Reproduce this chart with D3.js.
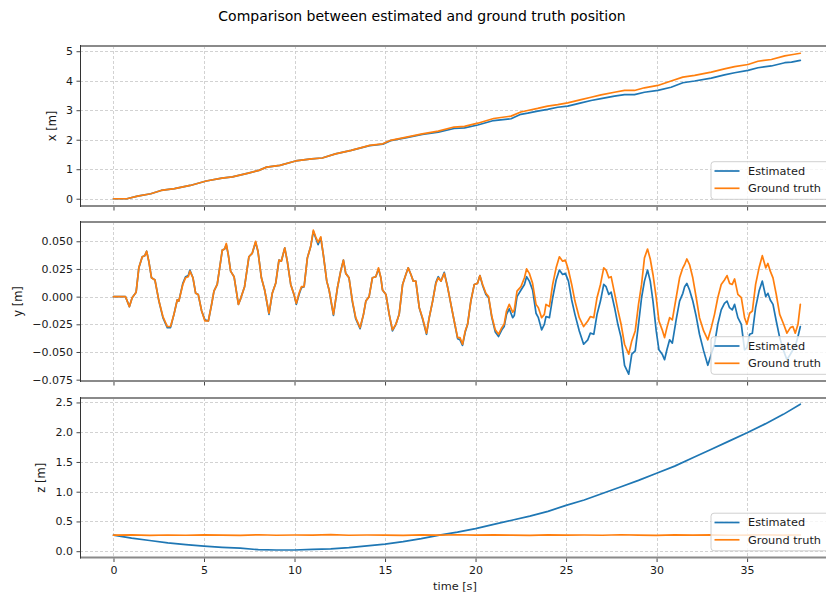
<!DOCTYPE html>
<html>
<head>
<meta charset="utf-8">
<script src="https://cdn.jsdelivr.net/npm/d3@7"></script>
<style>
  body { margin: 0; background: #fff; }
  svg { display: block; font-family: "DejaVu Sans", sans-serif; }
</style>
</head>
<body>
<svg id="chart" width="826" height="594"></svg>
<script>
// ---- x position over time ----
const xTime = [0, 0.74, 1.33, 2.06, 2.63, 3.37, 4.24, 5.12, 5.99, 6.57,
  7.45, 8.03, 8.46, 9.19, 10.06, 10.94, 11.53, 12.26, 13.13, 14.15,
  14.88, 15.31, 16.19, 17.06, 17.94, 18.81, 19.39, 20.12, 21.0, 21.96,
  22.5, 22.88, 23.43, 23.98, 24.54, 25.09, 25.83, 26.38, 26.93, 27.67,
  28.23, 28.78, 29.33, 30.07, 30.8, 31.45, 32.1, 33.02, 33.75, 34.31,
  35.05, 35.6, 36.34, 37.08, 37.45, 37.94];
const xTruth = [0, 0, 0.09, 0.17, 0.28, 0.34, 0.45, 0.60, 0.70, 0.74,
  0.87, 0.96, 1.07, 1.13, 1.28, 1.35, 1.38, 1.52, 1.64, 1.81,
  1.86, 1.98, 2.09, 2.20, 2.29, 2.43, 2.45, 2.56, 2.72, 2.80,
  2.94, 2.99, 3.06, 3.14, 3.19, 3.25, 3.36, 3.44, 3.52, 3.61,
  3.67, 3.67, 3.76, 3.84, 3.99, 4.12, 4.18, 4.29, 4.40, 4.48,
  4.55, 4.66, 4.72, 4.84, 4.88, 4.93];
const xEstimated = [0, 0, 0.09, 0.17, 0.28, 0.34, 0.45, 0.60, 0.70, 0.74,
  0.87, 0.96, 1.07, 1.13, 1.28, 1.35, 1.38, 1.52, 1.64, 1.80,
  1.85, 1.97, 2.07, 2.18, 2.26, 2.38, 2.40, 2.50, 2.65, 2.71,
  2.86, 2.90, 2.97, 3.03, 3.10, 3.14, 3.25, 3.33, 3.39, 3.48,
  3.53, 3.53, 3.61, 3.67, 3.78, 3.93, 3.99, 4.09, 4.20, 4.27,
  4.35, 4.44, 4.50, 4.61, 4.63, 4.69];

// ---- y position over time ----
const yTime = [
  0.00, 0.66, 0.88, 1.03, 1.25, 1.40, 1.59, 1.73, 1.83, 1.95,
  2.10, 2.29, 2.51, 2.73, 2.97, 3.15, 3.34, 3.52, 3.61, 3.83,
  3.98, 4.13, 4.22, 4.39, 4.54, 4.68, 4.87, 5.05, 5.24, 5.42,
  5.55, 5.73, 5.92, 6.01, 6.14, 6.23, 6.34, 6.47, 6.66, 6.90,
  7.02, 7.24, 7.48, 7.66, 7.85, 7.98, 8.17, 8.35, 8.59, 8.77,
  8.96, 9.14, 9.27, 9.46, 9.60, 9.79, 9.97, 10.10, 10.25, 10.38,
  10.53, 10.71, 10.89, 11.04, 11.17, 11.30, 11.45, 11.59, 11.78, 11.91,
  12.15, 12.37, 12.55, 12.70, 12.83, 13.01, 13.20, 13.38, 13.62, 13.81,
  13.94, 14.12, 14.30, 14.49, 14.64, 14.77, 14.86, 15.05, 15.23, 15.41,
  15.60, 15.78, 15.97, 16.15, 16.28, 16.43, 16.56, 16.70, 16.89, 17.07,
  17.29, 17.44, 17.63, 17.81, 17.94, 18.09, 18.27, 18.45, 18.64, 18.82,
  19.01, 19.14, 19.28, 19.43, 19.56, 19.74, 19.93, 20.11, 20.24, 20.39,
  20.57, 20.72, 20.90, 21.09, 21.27, 21.45, 21.58, 21.71, 21.86, 22.05,
  22.14, 22.29, 22.51, 22.70, 22.82, 22.97, 23.15, 23.34, 23.47, 23.65,
  23.80, 23.89, 24.08, 24.26, 24.45, 24.63, 24.81, 24.96, 25.13, 25.31,
  25.49, 25.73, 25.97, 26.20, 26.34, 26.53, 26.71, 26.90, 27.08, 27.21,
  27.36, 27.49, 27.68, 27.86, 28.04, 28.23, 28.46, 28.63, 28.82, 29.00,
  29.17, 29.33, 29.50, 29.65, 29.80, 29.98, 30.13, 30.31, 30.44, 30.57,
  30.72, 30.87, 31.08, 31.27, 31.45, 31.55, 31.67, 31.82, 32.00, 32.19,
  32.37, 32.60, 32.83, 33.02, 33.20, 33.38, 33.57, 33.75, 33.89, 34.03,
  34.18, 34.31, 34.49, 34.68, 34.86, 34.99, 35.14, 35.29, 35.47, 35.66,
  35.84, 36.03, 36.15, 36.28, 36.43, 36.61, 36.80, 37.02, 37.20, 37.39,
  37.53, 37.66, 37.81, 37.94];
const yTruth = [
  0.000, 0.000, -0.009, -0.001, 0.004, 0.026, 0.036, 0.037, 0.041, 0.032,
  0.017, 0.015, -0.004, -0.018, -0.027, -0.027, -0.016, -0.003, -0.004, 0.011,
  0.017, 0.018, 0.023, 0.017, 0.003, 0.002, -0.013, -0.022, -0.022, -0.007,
  0.005, 0.011, 0.032, 0.042, 0.043, 0.048, 0.038, 0.023, 0.018, -0.007,
  -0.002, 0.009, 0.036, 0.039, 0.050, 0.041, 0.017, 0.006, -0.015, 0.003,
  0.012, 0.033, 0.032, 0.044, 0.032, 0.011, 0.002, -0.006, 0.003, 0.009,
  0.009, 0.035, 0.045, 0.060, 0.054, 0.049, 0.054, 0.038, 0.014, 0.006,
  -0.016, 0.008, 0.023, 0.033, 0.021, 0.017, -0.004, -0.019, -0.028, -0.016,
  -0.004, 0.000, 0.017, 0.018, 0.026, 0.017, 0.006, 0.002, -0.016, -0.030,
  -0.025, -0.016, 0.011, 0.020, 0.026, 0.020, 0.014, 0.014, -0.010, -0.019,
  -0.033, -0.019, -0.004, 0.012, 0.017, 0.014, 0.021, 0.009, -0.007, -0.022,
  -0.037, -0.037, -0.043, -0.031, -0.025, -0.004, 0.011, 0.012, 0.019, 0.011,
  0.003, 0.000, -0.018, -0.030, -0.034, -0.028, -0.025, -0.013, -0.007, -0.014,
  -0.012, 0.005, 0.009, 0.017, 0.025, 0.021, 0.012, -0.007, -0.010, -0.019,
  -0.016, -0.007, -0.009, 0.011, 0.026, 0.036, 0.032, 0.033, 0.024, 0.011,
  -0.004, -0.019, -0.027, -0.022, -0.018, -0.019, -0.001, 0.011, 0.026, 0.024,
  0.017, 0.018, 0.003, -0.012, -0.025, -0.043, -0.052, -0.040, -0.031, -0.007,
  0.011, 0.035, 0.043, 0.034, 0.020, -0.001, -0.022, -0.030, -0.037, -0.028,
  -0.019, -0.021, -0.001, 0.017, 0.026, 0.029, 0.034, 0.029, 0.017, -0.001,
  -0.019, -0.031, -0.039, -0.028, -0.016, -0.001, 0.011, 0.015, 0.019, 0.012,
  0.011, 0.016, 0.002, -0.001, -0.019, -0.025, -0.015, -0.013, 0.011, 0.026,
  0.037, 0.026, 0.030, 0.023, 0.017, 0.002, -0.016, -0.025, -0.033, -0.028,
  -0.027, -0.033, -0.025, -0.007];
const yEstimated = [
  0.000, 0.000, -0.009, -0.001, 0.004, 0.026, 0.036, 0.037, 0.041, 0.032,
  0.017, 0.015, -0.004, -0.019, -0.028, -0.028, -0.016, -0.003, -0.004, 0.012,
  0.018, 0.019, 0.024, 0.017, 0.003, 0.002, -0.013, -0.021, -0.022, -0.007,
  0.005, 0.011, 0.032, 0.042, 0.043, 0.047, 0.038, 0.023, 0.018, -0.007,
  -0.002, 0.009, 0.036, 0.039, 0.049, 0.041, 0.017, 0.006, -0.016, 0.003,
  0.012, 0.033, 0.032, 0.044, 0.032, 0.011, 0.002, -0.007, 0.002, 0.008,
  0.009, 0.035, 0.045, 0.059, 0.053, 0.047, 0.053, 0.038, 0.014, 0.006,
  -0.017, 0.008, 0.023, 0.033, 0.021, 0.017, -0.005, -0.020, -0.029, -0.016,
  -0.004, 0.000, 0.017, 0.018, 0.025, 0.017, 0.006, 0.002, -0.016, -0.031,
  -0.025, -0.016, 0.011, 0.020, 0.026, 0.020, 0.014, 0.014, -0.010, -0.020,
  -0.034, -0.019, -0.004, 0.013, 0.018, 0.014, 0.022, 0.009, -0.007, -0.022,
  -0.038, -0.039, -0.044, -0.032, -0.025, -0.004, 0.011, 0.012, 0.019, 0.010,
  0.002, -0.001, -0.019, -0.032, -0.036, -0.030, -0.027, -0.016, -0.011, -0.019,
  -0.017, 0.000, 0.006, 0.011, 0.018, 0.014, 0.006, -0.015, -0.019, -0.030,
  -0.025, -0.018, -0.019, -0.001, 0.015, 0.024, 0.020, 0.021, 0.014, -0.003,
  -0.016, -0.031, -0.043, -0.039, -0.033, -0.034, -0.016, -0.004, 0.011, 0.009,
  0.002, 0.004, -0.010, -0.025, -0.037, -0.062, -0.070, -0.052, -0.049, -0.025,
  -0.001, 0.014, 0.024, 0.014, -0.004, -0.031, -0.048, -0.052, -0.057, -0.048,
  -0.039, -0.042, -0.021, -0.004, 0.003, 0.009, 0.012, 0.006, -0.004, -0.018,
  -0.034, -0.049, -0.062, -0.052, -0.043, -0.025, -0.012, -0.006, -0.004, -0.010,
  -0.012, -0.007, -0.019, -0.025, -0.048, -0.046, -0.034, -0.033, -0.010, 0.005,
  0.014, 0.000, 0.003, -0.003, -0.007, -0.022, -0.037, -0.049, -0.057, -0.052,
  -0.048, -0.045, -0.036, -0.027];

// ---- z position over time ----
const zTime = [0, 1, 2, 3, 4, 5, 6, 7, 8, 9,
  10, 11, 12, 13, 14, 15, 16, 17, 18, 19,
  20, 21, 22, 23, 24, 25, 26, 27, 28, 29,
  30, 31, 32, 33, 34, 35, 36, 37, 37.94];
const zEstimated = [0.27, 0.22, 0.18, 0.14, 0.11, 0.085, 0.065, 0.05, 0.025, 0.02,
  0.02, 0.03, 0.04, 0.06, 0.09, 0.12, 0.16, 0.21, 0.27, 0.32,
  0.38, 0.45, 0.52, 0.59, 0.67, 0.77, 0.86, 0.97, 1.08, 1.19,
  1.31, 1.43, 1.57, 1.71, 1.85, 1.99, 2.14, 2.30, 2.47];
const zTruth = [0.270, 0.275, 0.265, 0.272, 0.268, 0.274, 0.270, 0.266, 0.276, 0.268,
  0.272, 0.270, 0.278, 0.268, 0.272, 0.270, 0.266, 0.274, 0.271, 0.276,
  0.269, 0.273, 0.270, 0.266, 0.274, 0.270, 0.272, 0.268, 0.276, 0.271,
  0.267, 0.273, 0.270, 0.274, 0.268, 0.271, 0.275, 0.269, 0.272];

// ---- ticks and labels ----
const timeTicks = [0, 5, 10, 15, 20, 25, 30, 35];
const xTicks = [0, 1, 2, 3, 4, 5];
const yTicks = [-0.075, -0.050, -0.025, 0.000, 0.025, 0.050];
const zTicks = [0.0, 0.5, 1.0, 1.5, 2.0, 2.5];
const seriesNames = ["Estimated", "Ground truth"];
const seriesColors = ["#1f77b4", "#ff7f0e"];

const svg = d3.select("#chart");
const W = 826;
const plotLeft = 80, plotRight = 834;

const t = d3.scaleLinear().domain([-1.85, 39.8]).range([plotLeft, plotRight]);

const panels = [
  { id: "px", top: 46, bottom: 206, domain: [-0.2465, 5.1765], ticks: xTicks,
    fmt: d3.format("d"), label: "x [m]", labelX: 52,
    time: xTime, series: [xEstimated, xTruth] },
  { id: "py", top: 222, bottom: 381, domain: [-0.0762, 0.0674], ticks: yTicks,
    fmt: d3.format(".3f"), label: "y [m]", labelX: 18,
    time: yTime, series: [yEstimated, yTruth] },
  { id: "pz", top: 398, bottom: 557.5, domain: [-0.106, 2.575], ticks: zTicks,
    fmt: d3.format(".1f"), label: "z [m]", labelX: 41,
    time: zTime, series: [zEstimated, zTruth] }
];

const defs = svg.append("defs");

panels.forEach((p, pi) => {
  const y = d3.scaleLinear().domain(p.domain).range([p.bottom, p.top]);
  const g = svg.append("g");

  defs.append("clipPath").attr("id", "clip-" + p.id)
    .append("rect")
    .attr("x", plotLeft).attr("y", p.top)
    .attr("width", plotRight - plotLeft).attr("height", p.bottom - p.top);

  // grid
  const grid = g.append("g")
    .attr("stroke", "#c6c6c6").attr("stroke-width", 0.8)
    .attr("stroke-dasharray", "3,2");
  grid.selectAll("line.h").data(p.ticks).join("line")
    .attr("class", "h")
    .attr("x1", plotLeft).attr("x2", plotRight)
    .attr("y1", d => Math.round(y(d)) + 0.5).attr("y2", d => Math.round(y(d)) + 0.5);
  grid.selectAll("line.v").data(timeTicks).join("line")
    .attr("class", "v")
    .attr("x1", d => Math.round(t(d)) + 0.5).attr("x2", d => Math.round(t(d)) + 0.5)
    .attr("y1", p.top).attr("y2", p.bottom);

  // series lines
  const lines = g.append("g").attr("clip-path", "url(#clip-" + p.id + ")");
  p.series.forEach((vals, si) => {
    const pts = p.time.map((tt, i) => [tt, vals[i]]);
    lines.append("path")
      .datum(pts)
      .attr("fill", "none")
      .attr("stroke", seriesColors[si])
      .attr("stroke-width", 1.7)
      .attr("stroke-linejoin", "round")
      .attr("stroke-linecap", "round")
      .attr("d", d3.line().x(d => t(d[0])).y(d => y(d[1])));
  });

  // spines
  g.append("line").attr("x1", plotLeft).attr("x2", W)
    .attr("y1", p.top).attr("y2", p.top)
    .attr("stroke", "#8a8a8a").attr("stroke-width", 2);
  g.append("line").attr("x1", plotLeft).attr("x2", W)
    .attr("y1", p.bottom).attr("y2", p.bottom)
    .attr("stroke", "#8a8a8a").attr("stroke-width", 2);
  g.append("line").attr("x1", plotLeft + 0.5).attr("x2", plotLeft + 0.5)
    .attr("y1", p.top - 1).attr("y2", p.bottom + 1)
    .attr("stroke", "#333").attr("stroke-width", 1);

  // y axis ticks and labels
  const yAxis = d3.axisLeft(y).tickValues(p.ticks).tickFormat(p.fmt)
    .tickSizeInner(3.5).tickSizeOuter(0).tickPadding(3.5);
  const ya = g.append("g").attr("transform", `translate(${plotLeft},0)`).call(yAxis);
  ya.select(".domain").remove();
  ya.selectAll(".tick line").attr("stroke", "#333").attr("stroke-width", 0.9);
  ya.selectAll(".tick text").attr("font-size", 11).attr("fill", "#1a1a1a")
    .attr("font-family", "DejaVu Sans, sans-serif");

  // time axis ticks (labels only on the last panel)
  const tAxis = d3.axisBottom(t).tickValues(timeTicks)
    .tickFormat(pi === panels.length - 1 ? d3.format("d") : "")
    .tickSizeInner(3.5).tickSizeOuter(0).tickPadding(4);
  const ta = g.append("g").attr("transform", `translate(0,${p.bottom + 1})`).call(tAxis);
  ta.select(".domain").remove();
  ta.selectAll(".tick line").attr("stroke", "#333").attr("stroke-width", 0.9);
  ta.selectAll(".tick text").attr("font-size", 11).attr("fill", "#1a1a1a")
    .attr("font-family", "DejaVu Sans, sans-serif");

  // axis label
  g.append("text")
    .attr("transform", `translate(${p.labelX},${(p.top + p.bottom) / 2}) rotate(-90)`)
    .attr("text-anchor", "middle").attr("dy", "0.35em")
    .attr("font-size", 11.5).attr("fill", "#1a1a1a")
    .text(p.label);

  // legend (lower right)
  const lg = g.append("g").attr("transform", `translate(711,${p.bottom - 44.3})`);
  lg.append("rect")
    .attr("x", 0).attr("y", 0).attr("width", 125).attr("height", 37.6)
    .attr("rx", 3).attr("fill", "#fff").attr("fill-opacity", 0.8)
    .attr("stroke", "#d0d0d0").attr("stroke-width", 1);
  seriesNames.forEach((name, si) => {
    const ly = 9.3 + si * 17.3;
    lg.append("line").attr("x1", 3.5).attr("x2", 28.5)
      .attr("y1", ly).attr("y2", ly)
      .attr("stroke", seriesColors[si]).attr("stroke-width", 1.7);
    lg.append("text").attr("x", 37).attr("y", ly).attr("dy", "0.35em")
      .attr("font-size", 11.3).attr("fill", "#1a1a1a").text(name);
  });
});

// time label
svg.append("text")
  .attr("x", 455).attr("y", 586).attr("dy", "0.35em")
  .attr("text-anchor", "middle").attr("font-size", 11.3).attr("fill", "#1a1a1a")
  .text("time [s]");

// title
svg.append("text")
  .attr("x", 422).attr("y", 16).attr("dy", "0.35em")
  .attr("text-anchor", "middle").attr("font-size", 14).attr("fill", "#000")
  .text("Comparison between estimated and ground truth position");
</script>
</body>
</html>
